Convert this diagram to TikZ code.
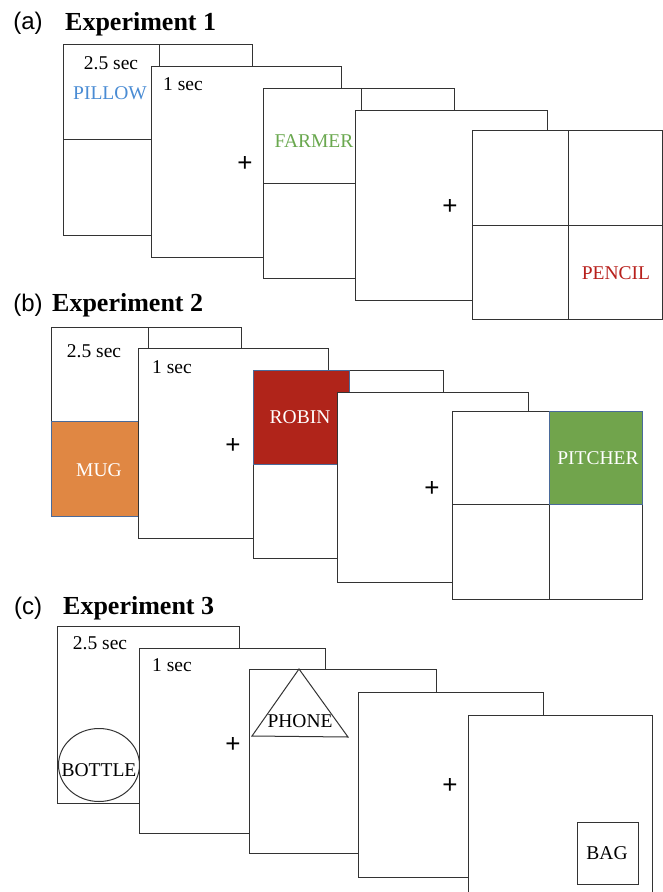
\documentclass[tikz,border=0pt]{standalone}
\usepackage{fontspec}
\setmainfont{Liberation Serif}
\newfontfamily\labsans{Liberation Sans}
\definecolor{linecol}{HTML}{333333}
\definecolor{pillowblue}{HTML}{4A8CD4}
\definecolor{farmergreen}{HTML}{6AA84F}
\definecolor{pencilred}{HTML}{B8201C}
\definecolor{mugorange}{HTML}{E08743}
\definecolor{robinred}{HTML}{B0241A}
\definecolor{pitchergreen}{HTML}{71A44C}
\definecolor{cellborder}{HTML}{4A6A9A}
\begin{document}
\begin{tikzpicture}[x=1pt,y=-1pt,
  card/.style={draw=linecol, fill=white, line width=1pt},
  gridline/.style={draw=linecol, line width=1pt},
  cell/.style={draw=cellborder, line width=0.8pt},
  txt/.style={inner sep=0pt, font=\fontsize{19.5}{22}\selectfont},
  plus/.style={inner sep=0pt, font=\labsans\fontsize{26}{28}\selectfont},
  paneltag/.style={inner sep=0pt, font=\labsans\fontsize{24}{26}\selectfont},
  paneltitle/.style={inner sep=0pt, anchor=west, font=\bfseries\fontsize{26}{28}\selectfont},
  shapeline/.style={draw=linecol, line width=1pt}]
\clip (0,0) rectangle (663,892);
\fill[white] (0,0) rectangle (663,892);

% ---------- (a) Experiment 1 ----------
\node[paneltag] (tagA) at (28,23) {(a)};
\node[paneltitle] (titleA) at (65,24) {Experiment 1};
% card 1
\draw[card] (63,44) rectangle (252,235);
\draw[gridline] (159,44) -- (159,235) (63,139) -- (252,139);
\node[txt] (a1time) at (111,63) {2.5 sec};
\node[txt, text=pillowblue] (a1word) at (110,93) {PILLOW};
% card 2
\draw[card] (151,66) rectangle (341,257);
\node[txt] (a2time) at (183,84) {1 sec};
\node[plus] (a2plus) at (245,164) {+};
% card 3
\draw[card] (263,88) rectangle (454,278);
\draw[gridline] (361,88) -- (361,278) (263,183) -- (454,183);
\node[txt, text=farmergreen] (a3word) at (314,141) {FARMER};
% card 4
\draw[card] (355,110) rectangle (547,300);
\node[plus] (a4plus) at (450,207) {+};
% card 5
\draw[card] (472,130) rectangle (662,319);
\draw[gridline] (568,130) -- (568,319) (472,225) -- (662,225);
\node[txt, text=pencilred] (a5word) at (616,273) {PENCIL};

% ---------- (b) Experiment 2 ----------
\node[paneltag] (tagB) at (28,305) {(b)};
\node[paneltitle] (titleB) at (52,305) {Experiment 2};
% card 1
\draw[card] (51,327) rectangle (241,516);
\draw[gridline] (148,327) -- (148,516) (51,421) -- (241,421);
\draw[cell, fill=mugorange] (51,421) rectangle (148,516);
\node[txt] (b1time) at (94,351) {2.5 sec};
\node[txt, text=white] (b1word) at (99,470) {MUG};
% card 2
\draw[card] (138,348) rectangle (328,538);
\node[txt] (b2time) at (172,367) {1 sec};
\node[plus] (b2plus) at (233,446) {+};
% card 3
\draw[card] (253,370) rectangle (443,558);
\draw[gridline] (349,370) -- (349,558) (253,464) -- (443,464);
\draw[cell, fill=robinred] (253,370) rectangle (349,464);
\node[txt, text=white] (b3word) at (300,417) {ROBIN};
% card 4
\draw[card] (337,392) rectangle (528,582);
\node[plus] (b4plus) at (432,489) {+};
% card 5
\draw[card] (452,411) rectangle (642,599);
\draw[gridline] (549,411) -- (549,599) (452,504) -- (642,504);
\draw[cell, fill=pitchergreen] (549,411) rectangle (642,504);
\node[txt, text=white] (b5word) at (598,458) {PITCHER};

% ---------- (c) Experiment 3 ----------
\node[paneltag] (tagC) at (28,608) {(c)};
\node[paneltitle] (titleC) at (63,608) {Experiment 3};
% card 1
\draw[card] (57,626) rectangle (239,803);
\node[txt] (c1time) at (100,643) {2.5 sec};
\draw[shapeline] (99,765) ellipse [x radius=40.5, y radius=36.5];
\node[txt] (c1word) at (99,770) {BOTTLE};
% card 2
\draw[card] (139,648) rectangle (325,833);
\node[txt] (c2time) at (172,665) {1 sec};
\node[plus] (c2plus) at (233,745) {+};
% card 3
\draw[card] (249,669) rectangle (436,853);
\draw[shapeline] (299,669) -- (252,736) -- (348,737) -- cycle;
\node[txt] (c3word) at (300,721) {PHONE};
% card 4
\draw[card] (358,692) rectangle (543,877);
\node[plus] (c4plus) at (450,786) {+};
% card 5
\draw[card] (468,715) rectangle (652,905);
\draw[shapeline] (577,822) rectangle (638,884);
\node[txt] (c5word) at (607,853) {BAG};
\end{tikzpicture}
\end{document}
